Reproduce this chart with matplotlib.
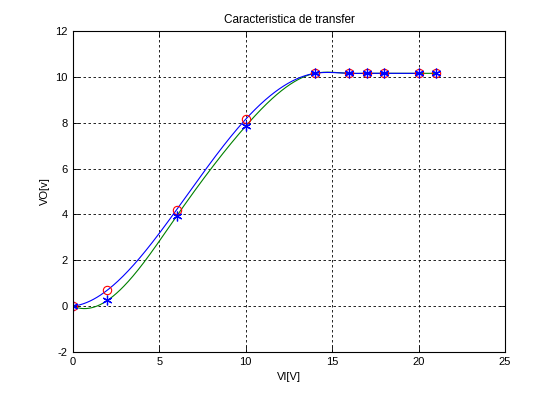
import numpy as np
import matplotlib
matplotlib.use("Agg")
import matplotlib.pyplot as plt

vi = [0, 2, 6, 10, 14, 16, 17, 18, 20, 21]
vo_sim = [0, 0.70, 4.20, 8.15, 10.15, 10.15, 10.15, 10.15, 10.15, 10.15]   # red circles
vo_mes = [0, 0.25, 3.92, 7.85, 10.15, 10.15, 10.15, 10.15, 10.15, 10.15]   # blue stars

plt.rcParams.update({
    "font.family": ["Liberation Sans", "DejaVu Sans"],
    "font.size": 8,
    "axes.unicode_minus": False,
    "xtick.direction": "in",
    "ytick.direction": "in",
    "xtick.top": True,
    "ytick.right": True,
})


def spline_nak(x, y, xx):
    # cubic spline with not-a-knot ends (like matlab spline)
    x = np.asarray(x, float)
    y = np.asarray(y, float)
    n = len(x)
    h = np.diff(x)
    A = np.zeros((n, n))
    b = np.zeros(n)
    for i in range(1, n - 1):
        A[i, i - 1] = h[i - 1]
        A[i, i] = 2 * (h[i - 1] + h[i])
        A[i, i + 1] = h[i]
        b[i] = 6 * ((y[i + 1] - y[i]) / h[i] - (y[i] - y[i - 1]) / h[i - 1])
    A[0, 0] = h[1]
    A[0, 1] = -(h[0] + h[1])
    A[0, 2] = h[0]
    A[-1, -3] = h[-1]
    A[-1, -2] = -(h[-2] + h[-1])
    A[-1, -1] = h[-2]
    M = np.linalg.solve(A, b)
    idx = np.clip(np.searchsorted(x, xx) - 1, 0, n - 2)
    t1 = x[idx + 1] - xx
    t0 = xx - x[idx]
    hi = h[idx]
    return (M[idx] * t1**3 / (6 * hi) + M[idx + 1] * t0**3 / (6 * hi)
            + (y[idx] / hi - M[idx] * hi / 6) * t1
            + (y[idx + 1] / hi - M[idx + 1] * hi / 6) * t0)


fig = plt.figure(figsize=(5.6, 3.96), dpi=100)
ax = fig.add_axes([0.130, 0.111, 0.772, 0.811])

xg = np.linspace(0, 21, 400)
ax.plot(xg, spline_nak(vi, vo_mes, xg), color="green", lw=0.8)
xb = np.linspace(0, 20, 400)
ax.plot(xb, spline_nak(vi[:-1], vo_sim[:-1], xb), color="blue", lw=0.8)

ax.plot(vi, vo_sim, "o", mfc="none", mec="red", ms=6, mew=0.8)
ax.plot(vi, vo_mes, marker=(6, 2, 0), ls="none", color="blue", ms=7, mew=0.9)

ax.set_xlim(0, 25)
ax.set_ylim(-2, 12)
ax.set_xticks(range(0, 26, 5))
ax.set_yticks(range(-2, 13, 2))
ax.grid(True, color="black", linestyle=(0, (3, 3)), linewidth=0.6)
ax.tick_params(length=4, width=0.6)
for s in ax.spines.values():
    s.set_linewidth(0.8)

ax.set_title("Caracteristica de transfer", fontsize=8.5)
ax.set_xlabel("VI[V]")
ax.set_ylabel("VO[v]")

plt.savefig("out.png", dpi=100)
